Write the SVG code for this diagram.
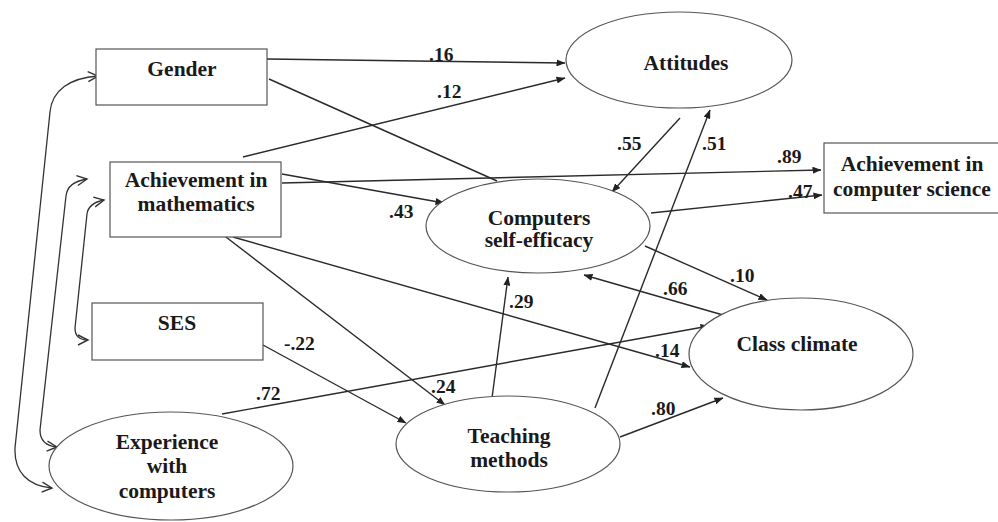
<svg xmlns="http://www.w3.org/2000/svg" width="998" height="522" viewBox="0 0 998 522">
<defs>
<style>
.box{fill:#fff;stroke:#555;stroke-width:1.2}
.ell{fill:#fff;stroke:#555;stroke-width:1.2}
.t{font-family:"Liberation Serif","Times New Roman",serif;font-weight:bold;font-size:21.5px;fill:#1a1a1a;text-anchor:middle}
.lb{font-family:"Liberation Serif","Times New Roman",serif;font-weight:bold;font-size:19.5px;fill:#1a1a1a}
.c{fill:none;stroke:#2a2a2a;stroke-width:1.4}
.a{marker-end:url(#ah)}
.cv{fill:none;stroke:#333;stroke-width:1.3;marker-start:url(#ch);marker-end:url(#ch)}
</style>
<marker id="ah" markerWidth="9" markerHeight="7" refX="8.5" refY="3.5" orient="auto" markerUnits="userSpaceOnUse"><path d="M0,0 L9,3.5 L0,7 z" fill="#222"/></marker>
<marker id="ch" markerWidth="14" markerHeight="14" refX="11" refY="7" orient="auto-start-reverse" markerUnits="userSpaceOnUse"><path d="M1,2 L11,7 L1,12" fill="none" stroke="#333" stroke-width="1.4"/></marker>
</defs>
<rect width="998" height="522" fill="#fff"/>
<g id="connectors">
<line class="c a" x1="267" y1="59" x2="565" y2="63"/>
<line class="c a" x1="243" y1="157" x2="565" y2="78"/>
<line class="c" x1="269" y1="79" x2="497" y2="181"/>
<line class="c a" x1="282" y1="183" x2="821" y2="170"/>
<line class="c a" x1="282" y1="174" x2="444" y2="203"/>
<line class="c a" x1="680" y1="118" x2="612" y2="192"/>
<line class="c a" x1="595" y1="408" x2="710" y2="110"/>
<line class="c a" x1="651" y1="213" x2="822" y2="195"/>
<line class="c a" x1="645" y1="246" x2="767" y2="300"/>
<line class="c a" x1="723" y1="315" x2="584" y2="275"/>
<line class="c a" x1="492" y1="398" x2="508" y2="277"/>
<line class="c a" x1="233" y1="237" x2="690" y2="367"/>
<line class="c a" x1="222" y1="414" x2="709" y2="326"/>
<line class="c a" x1="263" y1="345" x2="406" y2="423"/>
<line class="c a" x1="222" y1="234" x2="445" y2="405"/>
<line class="c a" x1="620" y1="437" x2="723" y2="398"/>
<path class="cv" d="M52,488 C28,486 14,472 15,448 L50,112 C52,90 70,78 98,76"/>
<path class="cv" d="M57,447 C46,446 40,440 40,430 L66,196 C67,186 74,181 87,179"/>
<path class="cv" d="M88,340 C80,340 75,336 75,328 L87,214 C88,206 94,202 104,200"/>
</g>
<g id="labels">
<text class="lb" x="429" y="61">.16</text>
<text class="lb" x="437" y="98">.12</text>
<text class="lb" x="389" y="218">.43</text>
<text class="lb" x="617" y="150">.55</text>
<text class="lb" x="702" y="150">.51</text>
<text class="lb" x="777" y="163">.89</text>
<text class="lb" x="788" y="198">.47</text>
<text class="lb" x="730" y="282">.10</text>
<text class="lb" x="663" y="295">.66</text>
<text class="lb" x="509" y="308">.29</text>
<text class="lb" x="655" y="357">.14</text>
<text class="lb" x="651" y="415">.80</text>
<text class="lb" x="284" y="350">-.22</text>
<text class="lb" x="256" y="400">.72</text>
<text class="lb" x="431" y="393">.24</text>
</g>
<g id="gender"><rect class="box" x="96" y="49" width="171" height="56"/><text class="t" x="182" y="76">Gender</text></g>
<g id="math"><rect class="box" x="110" y="162" width="171" height="75"/><text class="t" x="196" y="187">Achievement in</text><text class="t" x="196" y="211">mathematics</text></g>
<g id="ses"><rect class="box" x="92" y="303" width="171" height="57"/><text class="t" x="177" y="330">SES</text></g>
<g id="cs"><rect class="box" x="824" y="143" width="180" height="70"/><text class="t" x="912" y="171">Achievement in</text><text class="t" x="912" y="196">computer science</text></g>
<g id="attitudes"><ellipse class="ell" cx="679" cy="60" rx="113" ry="48"/><text class="t" x="686" y="70">Attitudes</text></g>
<g id="selfeff"><ellipse class="ell" cx="538" cy="226" rx="112" ry="47"/><text class="t" x="539" y="225">Computers</text><text class="t" x="539" y="247">self-efficacy</text></g>
<g id="climate"><ellipse class="ell" cx="801" cy="354" rx="112" ry="56"/><text class="t" x="797" y="351">Class climate</text></g>
<g id="teaching"><ellipse class="ell" cx="508" cy="444" rx="112" ry="48"/><text class="t" x="509" y="443">Teaching</text><text class="t" x="509" y="467">methods</text></g>
<g id="experience"><ellipse class="ell" cx="171" cy="466" rx="122" ry="54"/><text class="t" x="167" y="449">Experience</text><text class="t" x="167" y="473">with</text><text class="t" x="167" y="498">computers</text></g>
</svg>
